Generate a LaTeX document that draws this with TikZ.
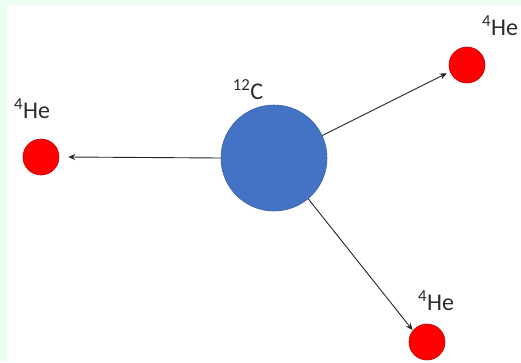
\documentclass[tikz,border=0pt]{standalone}
\usepackage{fontspec}
\setmainfont{Carlito}
\usetikzlibrary{arrows.meta}
\definecolor{paneledge}{HTML}{ECFFF0}
\definecolor{carbonblue}{HTML}{4472C4}
\definecolor{labelgray}{HTML}{2B2B2B}
\begin{document}
\begin{tikzpicture}[x=1pt,y=-1pt,
  nucleus/.style={circle, inner sep=0pt},
  carbon/.style={nucleus, minimum size=106pt, fill=carbonblue, draw=carbonblue!85!black, line width=0.6pt},
  alpha/.style={nucleus, minimum size=36pt, fill=red, draw=red!75!black, line width=0.6pt},
  isotope/.style={text=labelgray, font=\fontsize{24}{27}\selectfont, inner sep=0pt},
  emit/.style={-{Stealth[length=7pt,width=6pt]}, line width=0.9pt, draw=black!85}]
\useasboundingbox (0,0) rectangle (521,362);
\fill[paneledge] (0,0) rectangle (521,362);
\fill[white] (7,5) rectangle (521,362);

\node[carbon] (c12) at (274,158) {};
\node[alpha] (heL) at (41,157) {};
\node[alpha] (heR) at (467,65) {};
\node[alpha] (heD) at (427,342) {};

\node[isotope] (tc12) at (248,90) {\textsuperscript{12}C};
\node[isotope] (theL) at (32,109) {\textsuperscript{4}He};
\node[isotope] (theR) at (500,26) {\textsuperscript{4}He};
\node[isotope] (theD) at (436,301) {\textsuperscript{4}He};

\draw[emit] (c12.west) -- ([xshift=9pt]heL.east);
\draw[emit] (c12.25.5) -- ([shift={(-3pt,-2pt)}]heR.200);
\draw[emit] (c12.-50) -- ([shift={(-4pt,-3pt)}]heD.125);
\end{tikzpicture}
\end{document}
